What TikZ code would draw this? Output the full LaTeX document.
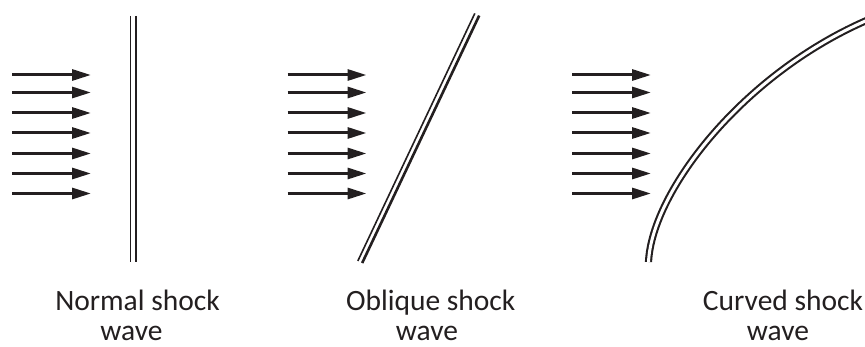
\documentclass[tikz,border=0pt]{standalone}
\usepackage{fontspec}
\setmainfont{Carlito}
\usetikzlibrary{arrows.meta}
\definecolor{ink}{HTML}{231F20}
\begin{document}
\begin{tikzpicture}[x=1pt,y=-1pt,
  flow/.style={line width=3pt, draw=ink, -{Triangle[length=19pt,width=11pt]}},
  thinline/.style={draw=ink, line width=1.6pt},
  thickline/.style={draw=ink, line width=2.6pt},
  curveline/.style={draw=ink, line width=2.1pt, double=white, double distance=3pt},
  lbl/.style={font=\fontsize{29.5}{32}\selectfont, text=ink, inner sep=0pt, anchor=base}]
\useasboundingbox (0,0) rectangle (865,347);
% incoming flow arrows
\foreach \yy in {75,92.5,113,133,153.5,173.5,193.5} {
  \draw[flow] (12,\yy) -- (91,\yy);
  \draw[flow] (287.5,\yy) -- (366.5,\yy);
  \draw[flow] (572,\yy) -- (651,\yy);
}
% normal shock
\draw[thinline] (130.4,16) -- (130.4,262);
\draw[thickline] (135.8,16) -- (135.8,262);
% oblique shock
\draw[thinline] (357.8,261) -- (474.8,13.4);
\draw[thickline] (362.2,263) -- (479.2,15.6);
% curved shock
\draw[curveline] (648.5,262) .. controls (652,190) and (745,72) .. (870,19);
% labels
\node[lbl] (n1) at (137.5,310.7) {Normal shock};
\node[lbl] (n2) at (131.5,341) {wave};
\node[lbl] (o1) at (430.7,310.7) {Oblique shock};
\node[lbl] (o2) at (427,341) {wave};
\node[lbl] (c1) at (783,310.7) {Curved shock};
\node[lbl] (c2) at (778,341) {wave};
\end{tikzpicture}
\end{document}
